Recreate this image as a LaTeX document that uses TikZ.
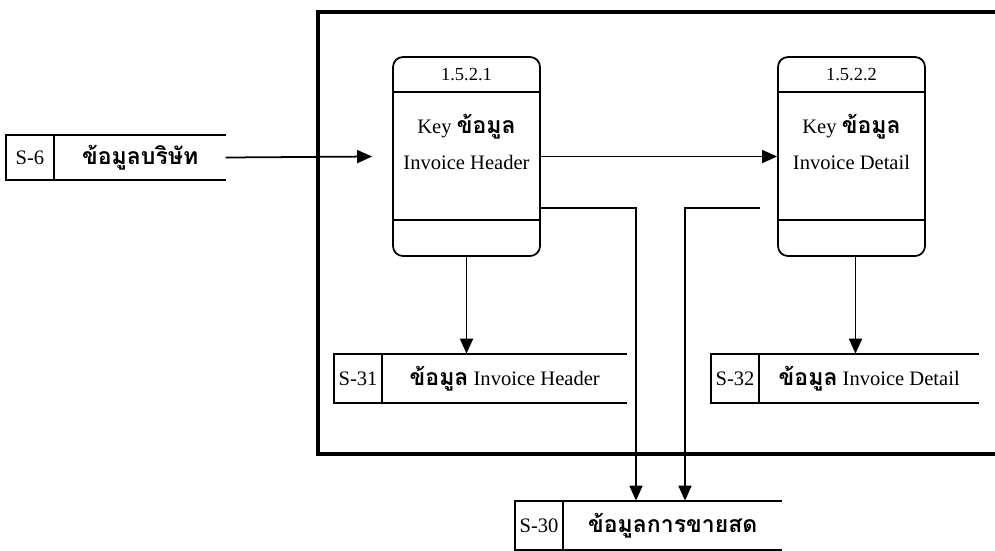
\documentclass[tikz,border=0pt]{standalone}
\usepackage{fontspec}
\setmainfont{Liberation Serif}
\newfontfamily\thai[Script=Thai,Scale=1.12]{Loma}
\usetikzlibrary{
    arrows.meta,
    positioning
}
\tikzstyle{flow} = [
    -{Triangle[length=3mm,width=2.6mm]},
    line width=1pt
]
\tikzstyle{process} = [
    draw,
    line width=1pt,
    rounded corners=2mm,
    minimum width=29.4mm,
    minimum height=39.8mm,
    inner sep=0pt
]
\tikzstyle{storeid} = [
    draw,
    line width=1pt,
    minimum width=9.6mm,
    minimum height=9.8mm,
    inner sep=0pt,
    font=\fontsize{11.7}{14}\selectfont
]
\tikzstyle{storetext} = [
    minimum height=9.8mm,
    inner sep=0pt,
    font=\fontsize{11.7}{14}\selectfont
]
\tikzstyle{frame} = [
    line width=0.8mm
]

\begin{document}
\begin{tikzpicture}[x=0.2mm, y=-0.2mm]
        \useasboundingbox (0,0) rectangle (995,550);

        % Boundary of process 1.5.2
        \draw[frame] (318,12) rectangle (1010,454);

        % Processes
        \node[process] (p1) at (466.5,156.5) {};
        \draw[line width=1pt] ([yshift=-7.2mm]p1.north west) -- ([yshift=-7.2mm]p1.north east);
        \draw[line width=1pt] ([yshift=7.4mm]p1.south west) -- ([yshift=7.4mm]p1.south east);
        \node[font=\fontsize{10.5}{12}\selectfont] (p1num) at ([yshift=-3.6mm]p1.north) {1.5.2.1};
        \node[align=center, font=\fontsize{11.7}{20}\selectfont] (p1name) at (466.5,142) {Key {\thai\bfseries ข้อมูล}\\Invoice Header};

        \node[process] (p2) at (851.5,156.5) {};
        \draw[line width=1pt] ([yshift=-7.2mm]p2.north west) -- ([yshift=-7.2mm]p2.north east);
        \draw[line width=1pt] ([yshift=7.4mm]p2.south west) -- ([yshift=7.4mm]p2.south east);
        \node[font=\fontsize{10.5}{12}\selectfont] (p2num) at ([yshift=-3.6mm]p2.north) {1.5.2.2};
        \node[align=center, font=\fontsize{11.7}{20}\selectfont] (p2name) at (851.5,142) {Key {\thai\bfseries ข้อมูล}\\Invoice Detail};

        % Data stores
        \node[storeid, minimum height=9mm] (s6id) at (30,157.5) {S-6};
        \node[storetext, minimum height=9mm, minimum width=34mm, right=0pt of s6id] (s6) {\thai\bfseries ข้อมูลบริษัท};
        \draw[line width=1pt] (s6.north west) -- (s6.north east) (s6.south west) -- (s6.south east);

        \node[storeid] (s31id) at (358,378.5) {S-31};
        \node[storetext, minimum width=48.6mm, right=0pt of s31id] (s31) {{\thai\bfseries ข้อมูล} Invoice Header};
        \draw[line width=1pt] (s31.north west) -- (s31.north east) (s31.south west) -- (s31.south east);

        \node[storeid] (s32id) at (735,378.5) {S-32};
        \node[storetext, minimum width=43.6mm, right=0pt of s32id] (s32) {{\thai\bfseries ข้อมูล} Invoice Detail};
        \draw[line width=1pt] (s32.north west) -- (s32.north east) (s32.south west) -- (s32.south east);

        \node[storeid] (s30id) at (539,525.5) {S-30};
        \node[storetext, minimum width=43.4mm, right=0pt of s30id] (s30) {\thai\bfseries ข้อมูลการขายสด};
        \draw[line width=1pt] (s30.north west) -- (s30.north east) (s30.south west) -- (s30.south east);

        % Flows
        \draw[flow] (s6.east) -- ([xshift=-4mm]p1.west);
        \draw[flow] (p1.east) -- (p2.west);
        \draw[flow] (p1.south) -- (p1.south |- s31.north);
        \draw[flow] ([xshift=0.8mm]p2.south) -- ([xshift=0.8mm]p2.south |- s32.north);

        \coordinate (j1) at (636,208);
        \draw[flow] (p1.east |- j1) -- (j1) -- (j1 |- s30.north);
        \coordinate (j2s) at (760,208);
        \coordinate (j2) at (685,208);
        \draw[flow] (j2s) -- (j2) -- (j2 |- s30.north);
    \end{tikzpicture}
\end{document}
